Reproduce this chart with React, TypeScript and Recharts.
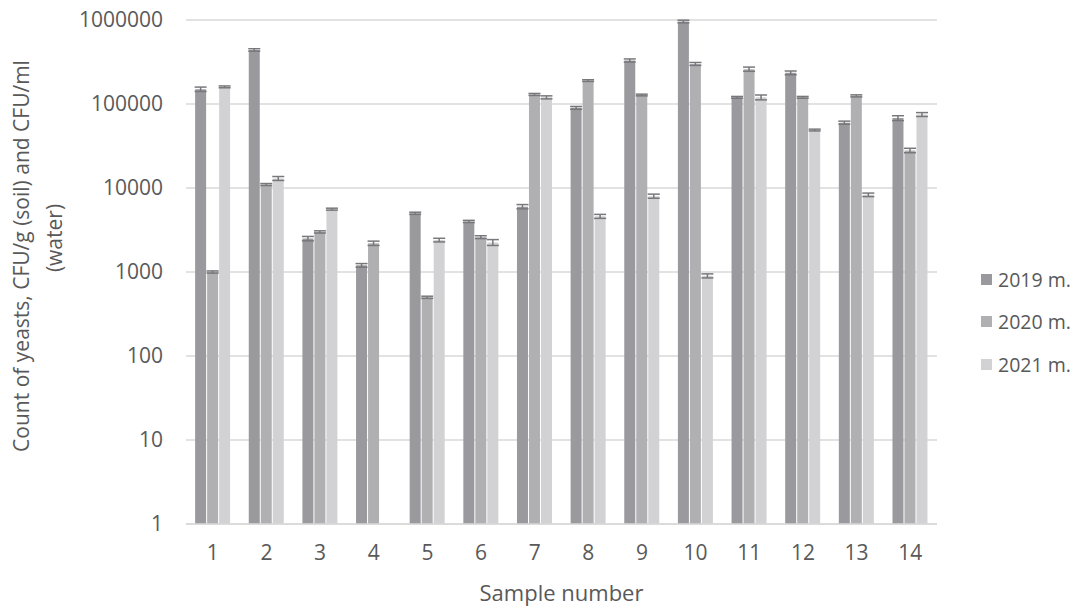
import React from "react";
import {
  BarChart, Bar, ErrorBar,
  XAxis, YAxis,
  CartesianGrid, Label,
} from "recharts";

// ─── Data ────────────────────────────────────────────────
const samples = ["1", "2", "3", "4", "5", "6", "7", "8", "9", "10", "11", "12", "13", "14"];

const y2019 = [150000, 440000, 2500, 1200, 5000, 4000, 6000, 90000, 330000, 960000, 120000, 235000, 60000, 68000];
const y2020 = [1000, 11000, 3000, 2200, 500, 2600, 130000, 190000, 128000, 300000, 260000, 120000, 125000, 28000];
const y2021 = [160000, 13000, 5600, null, 2400, 2250, 120000, 4600, 8000, 900, 120000, 49000, 8300, 75000];

const e2019 = [9000, 15000, 150, 60, 150, 120, 350, 3500, 14000, 35000, 3000, 12000, 2500, 4500];
const e2020 = [30, 300, 90, 130, 15, 100, 3500, 4500, 3000, 12000, 15000, 3000, 3500, 1700];
const e2021 = [4000, 700, 150, 0, 120, 180, 5000, 250, 450, 50, 8000, 1200, 400, 4000];

const yTicks = [1, 10, 100, 1000, 10000, 100000, 1000000];

const seriesNames = ["2019 m.", "2020 m.", "2021 m."];
const colors = ["#9a9a9e", "#b0b0b3", "#d2d2d4"];

const data = samples.map((s, i) => ({
  sample: s,
  v2019: y2019[i],
  v2020: y2020[i],
  v2021: y2021[i],
  e2019: e2019[i],
  e2020: e2020[i],
  e2021: e2021[i],
}));

const FONT = "'Open Sans', sans-serif";
const TEXT = "#595959";
const GRID = "#d9d9d9";
const ERR = "#78787c";

// two-line rotated y-axis title
const YTitle = () => (
  <g fill={TEXT} fontFamily={FONT} fontSize={21}>
    <text transform="translate(29,256) rotate(-90)" textAnchor="middle">
      Count of yeasts, CFU/g (soil) and CFU/ml
    </text>
    <text transform="translate(62,238) rotate(-90)" textAnchor="middle">
      (water)
    </text>
  </g>
);

export default function App() {
  return (
    <div style={{ position: "absolute", left: 0, top: 0, width: 1083, height: 608, background: "#fff" }}>
      <BarChart
        width={1083}
        height={608}
        data={data}
        margin={{ top: 20, right: 146, left: 0, bottom: 0 }}
        barCategoryGap="17%"
        barGap={1}
      >
        <CartesianGrid stroke={GRID} strokeWidth={1.5} vertical={false} />
        <XAxis
          dataKey="sample"
          height={84}
          tick={{ fontSize: 21, fill: TEXT, fontFamily: FONT }}
          axisLine={{ stroke: GRID, strokeWidth: 1.5 }}
          tickLine={false}
          tickMargin={15}
        >
          <Label
            value="Sample number"
            position="insideBottom"
            offset={7}
            style={{ fontSize: 22, fill: TEXT, fontFamily: FONT }}
          />
        </XAxis>
        <YAxis
          scale="log"
          domain={[1, 1000000]}
          ticks={yTicks}
          allowDataOverflow
          width={186}
          tick={{ fontSize: 21, fill: TEXT, fontFamily: FONT }}
          axisLine={false}
          tickLine={false}
          tickMargin={17}
        >
          <Label content={() => <YTitle />} />
        </YAxis>
        <Bar dataKey="v2019" name={seriesNames[0]} fill={colors[0]} isAnimationActive={false}>
          <ErrorBar dataKey="e2019" width={6} stroke={ERR} strokeWidth={1.5} direction="y" />
        </Bar>
        <Bar dataKey="v2020" name={seriesNames[1]} fill={colors[1]} isAnimationActive={false}>
          <ErrorBar dataKey="e2020" width={6} stroke={ERR} strokeWidth={1.5} direction="y" />
        </Bar>
        <Bar dataKey="v2021" name={seriesNames[2]} fill={colors[2]} isAnimationActive={false}>
          <ErrorBar dataKey="e2021" width={6} stroke={ERR} strokeWidth={1.5} direction="y" />
        </Bar>
      </BarChart>

      {/* legend */}
      <div style={{ position: "absolute", left: 981, top: 258, fontFamily: FONT, fontSize: 19.5, color: TEXT }}>
        {seriesNames.map((name, i) => (
          <div key={name} style={{ display: "flex", alignItems: "center", height: 42.5 }}>
            <span style={{ width: 11, height: 11, background: colors[i], marginRight: 6, display: "inline-block" }} />
            <span>{name}</span>
          </div>
        ))}
      </div>
    </div>
  );
}
